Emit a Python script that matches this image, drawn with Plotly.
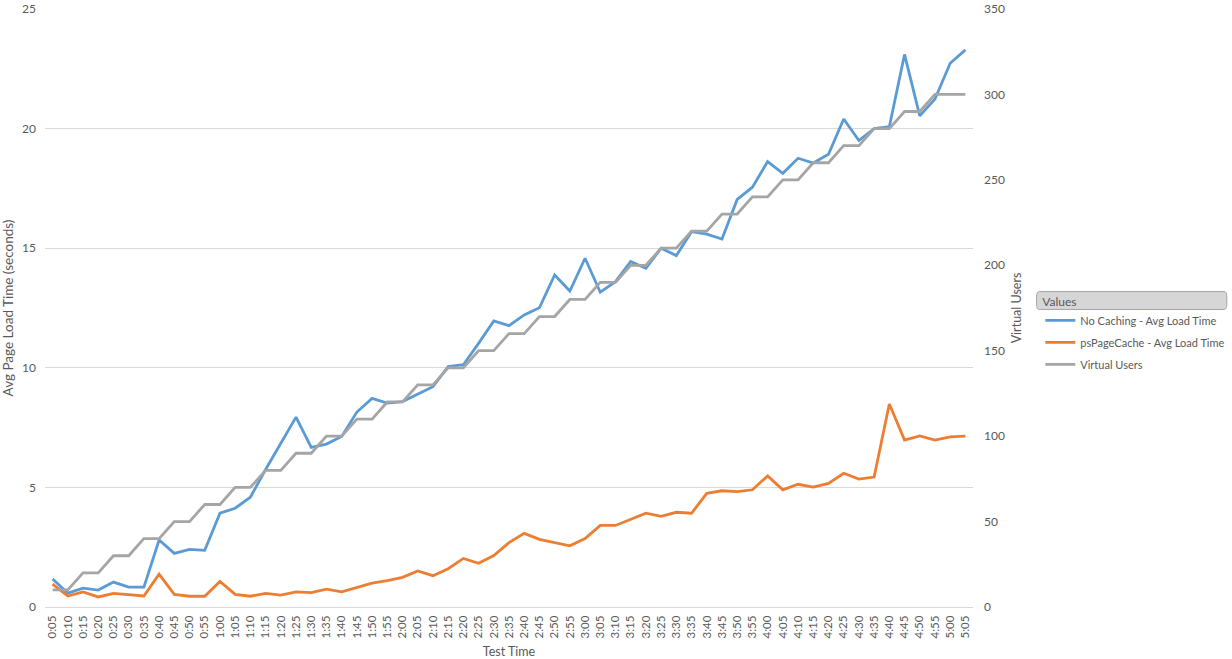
import plotly.graph_objects as go

times = ["0:05","0:10","0:15","0:20","0:25","0:30","0:35","0:40","0:45","0:50","0:55",
         "1:00","1:05","1:10","1:15","1:20","1:25","1:30","1:35","1:40","1:45","1:50","1:55",
         "2:00","2:05","2:10","2:15","2:20","2:25","2:30","2:35","2:40","2:45","2:50","2:55",
         "3:00","3:05","3:10","3:15","3:20","3:25","3:30","3:35","3:40","3:45","3:50","3:55",
         "4:00","4:05","4:10","4:15","4:20","4:25","4:30","4:35","4:40","4:45","4:50","4:55",
         "5:00","5:05"]

no_caching = [1.17, 0.58, 0.79, 0.71, 1.04, 0.83, 0.83, 2.80, 2.24, 2.41, 2.37,
              3.92, 4.13, 4.59, 5.75, 6.85, 7.94, 6.67, 6.81, 7.13, 8.15, 8.72, 8.52,
              8.59, 8.90, 9.21, 10.05, 10.13, 11.02, 11.96, 11.76, 12.21, 12.51, 13.88, 13.21,
              14.58, 13.16, 13.60, 14.44, 14.16, 15.00, 14.69, 15.69, 15.59, 15.38, 17.04, 17.55,
              18.62, 18.13, 18.76, 18.56, 18.93, 20.40, 19.50, 20.00, 20.08, 23.10, 20.53, 21.24,
              22.73, 23.29]

ps_page_cache = [0.96, 0.46, 0.63, 0.42, 0.57, 0.50, 0.46, 1.37, 0.53, 0.45, 0.45,
                 1.07, 0.53, 0.45, 0.57, 0.50, 0.63, 0.60, 0.75, 0.63, 0.82, 1.00, 1.10,
                 1.24, 1.51, 1.31, 1.60, 2.03, 1.83, 2.15, 2.69, 3.08, 2.83, 2.70, 2.56,
                 2.86, 3.41, 3.41, 3.68, 3.92, 3.79, 3.96, 3.92, 4.75, 4.86, 4.82, 4.90,
                 5.48, 4.90, 5.13, 5.01, 5.17, 5.59, 5.35, 5.43, 8.49, 6.98, 7.15, 6.98,
                 7.11, 7.14]

virtual_users = [10, 10, 20, 20, 30, 30, 40, 40, 50, 50, 60,
                 60, 70, 70, 80, 80, 90, 90, 100, 100, 110, 110, 120,
                 120, 130, 130, 140, 140, 150, 150, 160, 160, 170, 170, 180,
                 180, 190, 190, 200, 200, 210, 210, 220, 220, 230, 230, 240,
                 240, 250, 250, 260, 260, 270, 270, 280, 280, 290, 290, 300,
                 300, 300]

BLUE = "#5B9BD5"
ORANGE = "#ED7D31"
GRAY = "#A5A5A5"
TXT = "#595959"
FONT = "Lato"

fig = go.Figure()
fig.add_trace(go.Scatter(x=times, y=no_caching, mode="lines", name="No Caching - Avg Load Time",
                         legendgroup="a", line=dict(color=BLUE, width=2.8)))
fig.add_trace(go.Scatter(x=times, y=ps_page_cache, mode="lines", name="psPageCache - Avg Load Time",
                         legendgroup="b", line=dict(color=ORANGE, width=2.8)))
fig.add_trace(go.Scatter(x=times, y=virtual_users, mode="lines", name="Virtual Users",
                         legendgroup="c", line=dict(color=GRAY, width=2.8), yaxis="y2"))

# legend title box (paper coords: x 0..1 -> 45..973 px, y 0..1 -> 607..9 px)
x0, x1 = 1.0685, 1.2735
y0, y1 = 0.4975, 0.5275
r = 0.003
ry = 0.009
box = (f"M {x0+r},{y1} L {x1-r},{y1} Q {x1},{y1} {x1},{y1-ry} L {x1},{y0+ry} "
       f"Q {x1},{y0} {x1-r},{y0} L {x0+r},{y0} Q {x0},{y0} {x0},{y0+ry} "
       f"L {x0},{y1-ry} Q {x0},{y1} {x0+r},{y1} Z")

fig.update_layout(
    width=1232, height=659,
    margin=dict(l=45, r=259, t=9, b=52, autoexpand=False),
    plot_bgcolor="white", paper_bgcolor="white",
    font=dict(family=FONT, size=12, color=TXT),
    xaxis=dict(
        type="category", range=[-0.5, 60.5], tickangle=-90,
        showgrid=False, showline=True, linecolor="#d9d9d9", linewidth=1,
        ticks="", tickfont=dict(size=11.5, color=TXT), automargin=False,
        ticklabelstandoff=3,
        title=dict(text="Test Time", font=dict(size=12.5, color=TXT), standoff=9),
    ),
    yaxis=dict(
        range=[0, 25], dtick=5, showgrid=True, gridcolor="#d9d9d9", gridwidth=1,
        zeroline=False, showline=False, ticks="", tickfont=dict(size=12, color=TXT),
        automargin=False, ticklabelstandoff=8,
        title=dict(text="Avg Page Load Time (seconds)", font=dict(size=13.5, color=TXT), standoff=10),
    ),
    yaxis2=dict(
        range=[0, 350], dtick=50, overlaying="y", side="right", showgrid=False,
        zeroline=False, showline=False, ticks="", tickfont=dict(size=12, color=TXT),
        automargin=False, ticklabelstandoff=10,
        title=dict(text="Virtual Users", font=dict(size=12.5, color=TXT), standoff=8),
    ),
    legend=dict(
        x=1.0725, y=0.5295, xanchor="left", yanchor="top",
        title=dict(text="Values", font=dict(size=12, color=TXT), side="top"),
        font=dict(size=11, color=TXT), bgcolor="rgba(0,0,0,0)",
        itemwidth=30, tracegroupgap=3,
    ),
    shapes=[dict(
        type="path", xref="paper", yref="paper", path=box,
        fillcolor="#d6d6d6", line=dict(color="#a6a6a6", width=1), layer="below",
    )],
)

fig.write_html("out.html")
